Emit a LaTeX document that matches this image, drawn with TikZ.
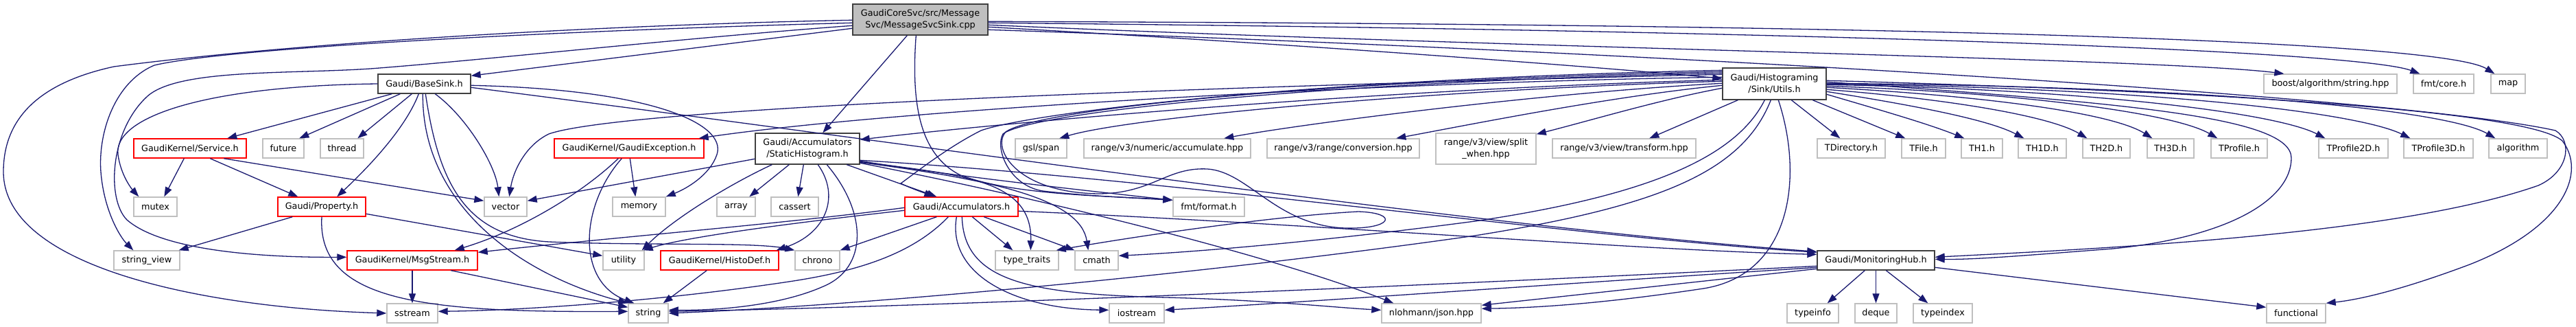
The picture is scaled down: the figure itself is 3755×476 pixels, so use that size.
\documentclass[tikz,border=0pt]{standalone}
\usepackage{fontspec}
\setmainfont{DejaVu Sans}
\usepackage{xcolor}
\usetikzlibrary{arrows.meta}
\definecolor{edgeblue}{HTML}{191970}
\definecolor{leafgrey}{HTML}{BFBFBF}
\definecolor{docgrey}{HTML}{404040}
\definecolor{maingrey}{HTML}{BFBFBF}
\tikzset{
  hdr/.style={draw=leafgrey, line width=1.4pt, fill=white, minimum height=28pt, inner xsep=3pt, inner ysep=0pt, align=center, font=\fontsize{12.8pt}{17pt}\selectfont},
  doc/.style={hdr, draw=docgrey},
  cut/.style={hdr, draw=red},
  srcfile/.style={doc, fill=maingrey},
  dep/.style={draw=edgeblue, line width=1.3pt, -{Triangle[length=14pt,width=10pt]}}
}

\begin{document}
\begin{tikzpicture}[x=1pt,y=-1pt]
  \useasboundingbox (0,0) rectangle (3755,476);
  \node[srcfile,minimum width=197pt,minimum height=45pt] at(1341.5,28.5)(main){GaudiCoreSvc/src/Message\\Svc/MessageSvcSink.cpp};
  \node[doc,minimum width=135pt] at(618.5,122)(BaseSink){Gaudi/BaseSink.h};
  \node[doc,minimum width=151pt,minimum height=46pt] at(2586.5,122)(Utils){Gaudi/Histograming\\/Sink/Utils.h};
  \node[hdr,minimum width=194pt] at(3397,122)(boost){boost/algorithm/string.hpp};
  \node[hdr,minimum width=88pt] at(3562,122)(fmtcore){fmt/core.h};
  \node[hdr,minimum width=50pt] at(3656,122)(map){map};
  \node[cut,minimum width=164pt] at(277,216)(Service){GaudiKernel/Service.h};
  \node[hdr,minimum width=60pt] at(413,216)(future){future};
  \node[hdr,minimum width=63pt] at(498.5,216)(thread){thread};
  \node[cut,minimum width=218pt] at(917,216)(GaudiException){GaudiKernel/GaudiException.h};
  \node[doc,minimum width=152pt,minimum height=45pt] at(1177,216.5)(StaticHistogram){Gaudi/Accumulators\\/StaticHistogram.h};
  \node[hdr,minimum width=75pt] at(1517.5,216)(gslspan){gsl/span};
  \node[hdr,minimum width=243pt] at(1701.5,216)(accumulate){range/v3/numeric/accumulate.hpp};
  \node[hdr,minimum width=222pt] at(1958,216)(conversion){range/v3/range/conversion.hpp};
  \node[hdr,minimum width=146pt,minimum height=45pt] at(2166,216.5)(splitwhen){range/v3/view/split\\\_when.hpp};
  \node[hdr,minimum width=209pt] at(2367.5,216)(transform){range/v3/view/transform.hpp};
  \node[hdr,minimum width=99pt] at(2698.5,216)(TDirectory){TDirectory.h};
  \node[hdr,minimum width=64pt] at(2804,216)(TFile){TFile.h};
  \node[hdr,minimum width=60pt] at(2889,216)(TH1){TH1.h};
  \node[hdr,minimum width=70pt] at(2977,216)(TH1D){TH1D.h};
  \node[hdr,minimum width=69pt] at(3070.5,216)(TH2D){TH2D.h};
  \node[hdr,minimum width=68pt] at(3164,216)(TH3D){TH3D.h};
  \node[hdr,minimum width=82pt] at(3264,216)(TProfile){TProfile.h};
  \node[hdr,minimum width=101pt] at(3430.5,216)(TProfile2D){TProfile2D.h};
  \node[hdr,minimum width=101pt] at(3554.5,216)(TProfile3D){TProfile3D.h};
  \node[hdr,minimum width=85pt] at(3670.5,216)(algorithm){algorithm};
  \node[hdr,minimum width=63pt] at(226.5,301)(mutex){mutex};
  \node[cut,minimum width=128pt] at(469,301)(Property){Gaudi/Property.h};
  \node[hdr,minimum width=62pt] at(737,301)(vector){vector};
  \node[hdr,minimum width=77pt] at(931.5,301)(memory){memory};
  \node[hdr,minimum width=56pt] at(1073,301)(array){array};
  \node[hdr,minimum width=69pt] at(1158.5,301)(cassert){cassert};
  \node[cut,minimum width=165pt] at(1401.5,301)(Accumulators){Gaudi/Accumulators.h};
  \node[hdr,minimum width=104pt] at(1762,301)(fmtformat){fmt/format.h};
  \node[hdr,minimum width=96pt] at(214,379)(stringview){string\_view};
  \node[cut,minimum width=190pt] at(601,379)(MsgStream){GaudiKernel/MsgStream.h};
  \node[hdr,minimum width=60pt] at(909,379)(utility){utility};
  \node[cut,minimum width=172pt] at(1049,379)(HistoDef){GaudiKernel/HistoDef.h};
  \node[hdr,minimum width=65pt] at(1191.5,379)(chrono){chrono};
  \node[hdr,minimum width=92pt] at(1497,379)(typetraits){type\_traits};
  \node[hdr,minimum width=63pt] at(1598.5,379)(cmath){cmath};
  \node[doc,minimum width=171pt] at(2734.5,379)(MonitoringHub){Gaudi/MonitoringHub.h};
  \node[hdr,minimum width=74pt] at(601,456)(sstream){sstream};
  \node[hdr,minimum width=58pt] at(945,456)(string){string};
  \node[hdr,minimum width=80pt] at(1657,456)(iostream){iostream};
  \node[hdr,minimum width=145pt] at(2086.5,456)(nlohmann){nlohmann/json.hpp};
  \node[hdr,minimum width=75pt] at(2642.5,456)(typeinfo){typeinfo};
  \node[hdr,minimum width=61pt] at(2734.5,456)(deque){deque};
  \node[hdr,minimum width=86pt] at(2832,456)(typeindex){typeindex};
  \node[hdr,minimum width=86pt] at(3347,456)(functional){functional};
  \draw[dep] ([yshift=-36pt]main.north west) -- ([yshift=-3pt]BaseSink.north east);
  \draw[dep] ([yshift=-24pt]main.north west) .. controls (900,36) and (450,60) .. (166,97) .. controls (60,120) and (5,170) .. (5,250) .. controls (5,390) and (300,448) .. (sstream.west);
  \draw[dep] ([yshift=-28pt]main.north west) .. controls (800,45) and (330,70) .. (225,95) .. controls (165,120) and (140,200) .. (148,260) .. controls (154,310) and (175,345) .. ([xshift=29pt]stringview.north west);
  \draw[dep] ([yshift=-32pt]main.north west) .. controls (1000,55) and (700,88) .. (540,100) .. controls (420,108) and (260,100) .. (215,140) .. controls (160,190) and (155,290) .. (185,320) .. controls (240,368) and (400,375) .. ([yshift=-10pt]MsgStream.north west);
  \draw[dep] ([xshift=80pt]main.south west) -- ([xshift=99pt]StaticHistogram.north west);
  \draw[dep] ([xshift=93pt]main.south west) .. controls (1328,150) and (1340,225) .. (1400,255) .. controls (1480,285) and (1620,285) .. ([yshift=-5pt]fmtformat.north west);
  \draw[dep] ([yshift=-34pt]main.north east) .. controls (1900,65) and (2300,95) .. ([yshift=-16pt]Utils.north west);
  \draw[dep] ([yshift=-31pt]main.north east) .. controls (2200,70) and (3150,85) .. ([xshift=30pt]boost.north west);
  \draw[dep] ([yshift=-28pt]main.north east) .. controls (2700,45) and (3440,75) .. ([xshift=10pt]fmtcore.north west);
  \draw[dep] ([yshift=-26pt]main.north east) .. controls (2800,35) and (3560,60) .. ([xshift=6pt]map.north west);
  \draw[dep] ([yshift=-38pt]main.north east) .. controls (2400,75) and (3500,140) .. (3725,190) .. controls (3750,205) and (3745,250) .. (3700,270) .. controls (3500,340) and (3100,360) .. ([yshift=-10pt]MonitoringHub.north east);
  \draw[dep] ([xshift=21pt]BaseSink.south west) -- ([xshift=137pt]Service.north west);
  \draw[dep] ([xshift=33pt]BaseSink.south west) -- ([xshift=54pt]future.north west);
  \draw[dep] ([xshift=50pt]BaseSink.south west) -- ([xshift=55pt]thread.north west);
  \draw[dep] ([xshift=60pt]BaseSink.south west) .. controls (590,190) and (530,250) .. ([xshift=87pt]Property.north west);
  \draw[dep] (BaseSink.west) .. controls (300,125) and (165,170) .. (172,225) .. controls (176,255) and (192,275) .. ([xshift=8pt]mutex.north west);
  \draw[dep] ([xshift=84pt]BaseSink.south west) .. controls (680,170) and (722,240) .. ([xshift=22pt]vector.north west);
  \draw[dep] ([xshift=66pt]BaseSink.south west) .. controls (615,300) and (760,400) .. (string.north west);
  \draw[dep] ([xshift=70pt]BaseSink.south west) .. controls (640,270) and (680,345) .. (800,352) .. controls (950,358) and (1100,352) .. (chrono.north west);
  \draw[dep] ([yshift=-17pt]BaseSink.north east) .. controls (950,130) and (1060,180) .. (1045,225) .. controls (1035,255) and (1000,275) .. (memory.north east);
  \draw[dep] ([yshift=-20pt]BaseSink.north east) .. controls (1300,205) and (2150,330) .. ([yshift=-2pt]MonitoringHub.north west);
  \draw[dep] ([xshift=74pt]Service.south west) -- ([xshift=45pt]mutex.north west);
  \draw[dep] ([xshift=112pt]Service.south west) -- ([xshift=30pt]Property.north west);
  \draw[dep] ([xshift=132pt]Service.south west) -- ([yshift=-6pt]vector.north west);
  \draw[dep] ([xshift=22pt]Property.south west) -- ([xshift=-2pt]stringview.north east);
  \draw[dep] (Property.south) .. controls (462,440) and (620,455) .. ([yshift=-12pt]string.north west);
  \draw[dep] ([yshift=-25pt]Property.north east) -- ([yshift=-8pt]utility.north west);
  \draw[dep] ([xshift=94pt]GaudiException.south west) .. controls (850,280) and (760,335) .. ([xshift=-34pt]MsgStream.north east);
  \draw[dep] ([xshift=99pt]GaudiException.south west) .. controls (845,300) and (840,410) .. ([xshift=9pt]string.north west);
  \draw[dep] ([xshift=111pt]GaudiException.south west) -- ([xshift=34pt]memory.north west);
  \draw[dep] (MsgStream.south) -- (sstream.north);
  \draw[dep] ([xshift=152pt]MsgStream.south west) -- ([yshift=-6pt]string.north west);
  \draw[dep] ([xshift=68pt]HistoDef.south west) -- ([xshift=-8pt]string.north east);
  \draw[dep] ([yshift=-38pt]StaticHistogram.north west) -- ([yshift=-6pt]vector.north east);
  \draw[dep] ([xshift=25pt]StaticHistogram.south west) .. controls (1060,270) and (980,320) .. ([xshift=-4pt]utility.north east);
  \draw[dep] ([xshift=50pt]StaticHistogram.south west) -- ([xshift=48pt]array.north west);
  \draw[dep] ([xshift=71pt]StaticHistogram.south west) -- ([xshift=40pt]cassert.north west);
  \draw[dep] ([xshift=92pt]StaticHistogram.south west) .. controls (1225,285) and (1205,340) .. ([xshift=-4pt]HistoDef.north east);
  \draw[dep] ([xshift=105pt]StaticHistogram.south west) .. controls (1265,310) and (1265,390) .. (1200,417) .. controls (1130,448) and (1030,452) .. ([yshift=-10pt]string.north east);
  \draw[dep] ([xshift=134pt]StaticHistogram.south west) -- ([xshift=47pt]Accumulators.north west);
  \draw[dep] ([yshift=-41pt]StaticHistogram.north east) .. controls (1380,255) and (1560,275) .. ([yshift=-5pt]fmtformat.north west);
  \draw[dep] ([yshift=-42pt]StaticHistogram.north east) .. controls (1400,255) and (1505,260) .. ([xshift=52pt]typetraits.north west);
  \draw[dep] ([yshift=-43pt]StaticHistogram.north east) .. controls (1450,262) and (1575,290) .. ([xshift=20pt]cmath.north west);
  \draw[dep] ([yshift=-44pt]StaticHistogram.north east) .. controls (1500,285) and (1850,370) .. ([xshift=18pt]nlohmann.north west);
  \draw[dep] ([yshift=-40pt]StaticHistogram.north east) .. controls (1700,260) and (2300,345) .. ([yshift=-3pt]MonitoringHub.north west);
  \draw[dep] ([xshift=47pt]Accumulators.south west) -- (chrono.north east);
  \draw[dep] ([xshift=64pt]Accumulators.south west) .. controls (1330,370) and (1250,395) .. (1150,410) .. controls (950,440) and (750,452) .. ([yshift=-12pt]sstream.north east);
  \draw[dep] ([xshift=76pt]Accumulators.south west) .. controls (1380,400) and (1480,450) .. ([yshift=-10pt]iostream.north west);
  \draw[dep] ([xshift=84pt]Accumulators.south west) .. controls (1405,410) and (1500,428) .. (1700,433) .. controls (1850,437) and (1950,448) .. ([yshift=-10pt]nlohmann.north west);
  \draw[dep] ([xshift=99pt]Accumulators.south west) -- ([xshift=26pt]typetraits.north west);
  \draw[dep] ([xshift=116pt]Accumulators.south west) -- (cmath.north west);
  \draw[dep] ([yshift=-21pt]Accumulators.north east) .. controls (1900,325) and (2400,365) .. ([yshift=-6pt]MonitoringHub.north west);
  \draw[dep] ([yshift=-16pt]Accumulators.north west) .. controls (1150,325) and (900,345) .. ([yshift=-3pt]MsgStream.north east);
  \draw[dep] ([yshift=-20pt]Accumulators.north west) .. controls (1150,325) and (1000,345) .. ([xshift=-2pt]utility.north east);
  \draw[dep] ([yshift=-18pt]Utils.north west) .. controls (2000,130) and (1450,180) .. ([yshift=-10pt]StaticHistogram.north east);
  \draw[dep] ([yshift=-14pt]Utils.north west) .. controls (2000,120) and (1300,160) .. ([xshift=-8pt]GaudiException.north east);
  \draw[dep] ([yshift=-10pt]Utils.north west) .. controls (1600,130) and (900,160) .. (800,195) .. controls (765,212) and (748,250) .. ([xshift=37pt]vector.north west);
  \draw[dep] ([yshift=-20pt]Utils.north west) .. controls (2100,130) and (1650,170) .. ([xshift=65pt]gslspan.north west);
  \draw[dep] ([yshift=-23pt]Utils.north west) .. controls (2250,135) and (1900,180) .. ([xshift=205pt]accumulate.north west);
  \draw[dep] ([yshift=-26pt]Utils.north west) .. controls (2350,140) and (2150,180) .. ([xshift=189pt]conversion.north west);
  \draw[dep] ([yshift=-30pt]Utils.north west) .. controls (2420,145) and (2320,175) .. ([yshift=-2pt]splitwhen.north east);
  \draw[dep] ([xshift=23pt]Utils.south west) -- ([xshift=142pt]transform.north west);
  \draw[dep] ([yshift=-8pt]Utils.north west) .. controls (1900,120) and (1500,165) .. (1462,195) .. controls (1450,215) and (1470,270) .. (1520,278) .. controls (1580,285) and (1650,288) .. ([yshift=-5pt]fmtformat.north west);
  \draw[dep] ([yshift=-6pt]Utils.north west) .. controls (1900,118) and (1510,160) .. (1466,192) .. controls (1445,215) and (1480,280) .. (1600,282) .. controls (1680,282) and (1700,243) .. (1760,246) .. controls (1820,250) and (1860,328) .. (1960,332) .. controls (2030,334) and (2040,310) .. (1980,308) .. controls (1850,315) and (1650,345) .. ([xshift=-4pt]typetraits.north east);
  \draw[dep] ([yshift=-4pt]Utils.north west) .. controls (1900,115) and (1500,165) .. (1430,190) .. controls (1380,215) and (1330,255) .. (1313,267) .. controls (1330,275) and (1345,280) .. ([xshift=43pt]Accumulators.north west);
  \draw[dep] ([xshift=62pt]Utils.south west) .. controls (2530,230) and (2400,285) .. (2150,322) .. controls (1900,355) and (1720,368) .. ([yshift=-8pt]cmath.north east);
  \draw[dep] ([xshift=71pt]Utils.south west) .. controls (2540,250) and (2420,300) .. (2150,343) .. controls (1750,400) and (1250,445) .. (string.east);
  \draw[dep] ([xshift=82pt]Utils.south west) .. controls (2630,260) and (2610,400) .. (2483,420) .. controls (2350,440) and (2250,448) .. ([yshift=-8pt]nlohmann.north east);
  \draw[dep] ([xshift=101pt]Utils.south west) -- ([xshift=34pt]TDirectory.north west);
  \draw[dep] ([xshift=132pt]Utils.south west) -- ([xshift=6pt]TFile.north west);
  \draw[dep] ([yshift=-39pt]Utils.north east) .. controls (2740,160) and (2810,180) .. ([xshift=5pt]TH1.north west);
  \draw[dep] ([yshift=-35pt]Utils.north east) .. controls (2800,155) and (2900,175) .. ([xshift=9pt]TH1D.north west);
  \draw[dep] ([yshift=-32pt]Utils.north east) .. controls (2850,145) and (2990,170) .. ([xshift=7pt]TH2D.north west);
  \draw[dep] ([yshift=-29pt]Utils.north east) .. controls (2900,140) and (3080,165) .. ([xshift=8pt]TH3D.north west);
  \draw[dep] ([yshift=-27pt]Utils.north east) .. controls (2950,135) and (3170,165) .. ([xshift=10pt]TProfile.north west);
  \draw[dep] ([yshift=-25pt]Utils.north east) .. controls (3050,130) and (3320,165) .. ([xshift=10pt]TProfile2D.north west);
  \draw[dep] ([yshift=-24pt]Utils.north east) .. controls (3150,128) and (3440,165) .. ([xshift=10pt]TProfile3D.north west);
  \draw[dep] ([yshift=-23pt]Utils.north east) .. controls (3250,126) and (3570,162) .. ([xshift=10pt]algorithm.north west);
  \draw[dep] ([yshift=-19pt]Utils.north east) .. controls (3300,135) and (3690,165) .. (3735,205) .. controls (3770,250) and (3740,330) .. (3600,385) .. controls (3520,415) and (3450,435) .. (functional.north east);
  \draw[dep] ([yshift=-21pt]Utils.north east) .. controls (3100,150) and (3340,170) .. (3340,230) .. controls (3340,290) and (3250,345) .. (3080,362) .. controls (2950,372) and (2880,378) .. ([yshift=-13pt]MonitoringHub.north east);
  \draw[dep] ([xshift=70pt]MonitoringHub.south west) -- ([xshift=-17pt]typeinfo.north east);
  \draw[dep] (MonitoringHub.south) -- (deque.north);
  \draw[dep] ([xshift=101pt]MonitoringHub.south west) -- ([xshift=22pt]typeindex.north west);
  \draw[dep] ([yshift=-25pt]MonitoringHub.north east) -- ([yshift=-6pt]functional.north west);
  \draw[dep] ([yshift=-27pt]MonitoringHub.north west) -- ([yshift=-3pt]nlohmann.north east);
  \draw[dep] ([yshift=-23pt]MonitoringHub.north west) .. controls (2000,420) and (1300,448) .. ([yshift=-12pt]string.north east);
  \draw[dep] ([yshift=-25pt]MonitoringHub.north west) .. controls (2200,418) and (1900,440) .. ([yshift=-10pt]iostream.north east);
\end{tikzpicture}
\end{document}
